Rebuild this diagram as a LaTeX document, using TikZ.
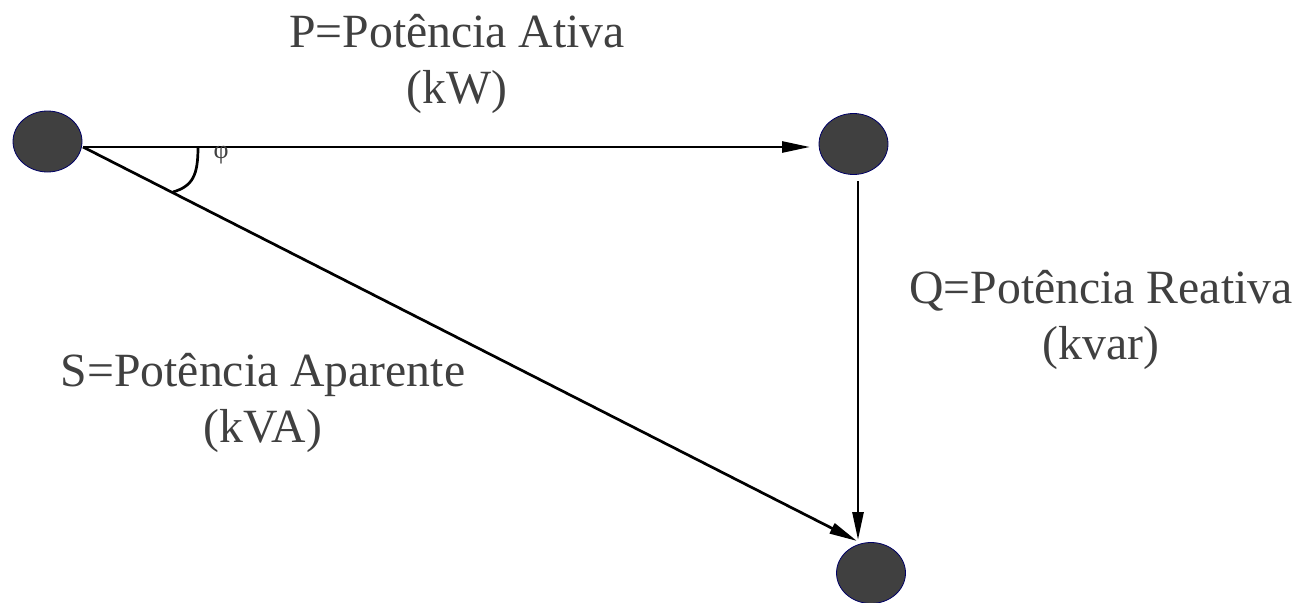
\documentclass[tikz,border=0pt]{standalone}
\usepackage{fontspec}
\setmainfont{Liberation Serif}
\usetikzlibrary{arrows.meta,shapes.geometric}
\definecolor{nodefill}{HTML}{404040}
\definecolor{txt}{HTML}{404040}
\tikzset{
  pt/.style={ellipse, draw=blue!40!black, line width=0.8pt, fill=nodefill, minimum width=69pt, minimum height=61pt, inner sep=0pt},
  vec/.style={line width=2.7pt, -{Triangle[length=28pt,width=11pt]}},
  lbl/.style={text=txt, align=center, inner sep=0pt, font=\fontsize{47.7}{56}\selectfont}
}
\begin{document}
\begin{tikzpicture}[x=1pt,y=-1pt]
\useasboundingbox (0,0) rectangle (1297,602);
\node[pt] (A) at (47.5,141.5) {};
\node[pt] (B) at (853.5,144) {};
\node[pt] (C) at (871,573) {};
\coordinate (o) at (83,147);
\coordinate (pe) at (810,147);
\coordinate (qs) at (858,181);
\coordinate (qe) at (858,540);
\coordinate (se) at (857,541);
\draw[vec] (o) -- (pe);
\draw[vec] (qs) -- (qe);
\draw[vec] (o) -- (se);
\draw[line width=2.7pt] (198,147) .. controls (198,175) and (193,186) .. (173,192);
\node[text=txt, inner sep=0pt, font=\fontsize{26}{26}\selectfont] (phi) at (221,155) {φ};
\node[lbl] (P) at (457,64) {P=Potência Ativa\\(kW)};
\node[lbl] (Q) at (1101,320) {Q=Potência Reativa\\(kvar)};
\node[lbl] (S) at (263,403) {S=Potência Aparente\\(kVA)};
\end{tikzpicture}
\end{document}
